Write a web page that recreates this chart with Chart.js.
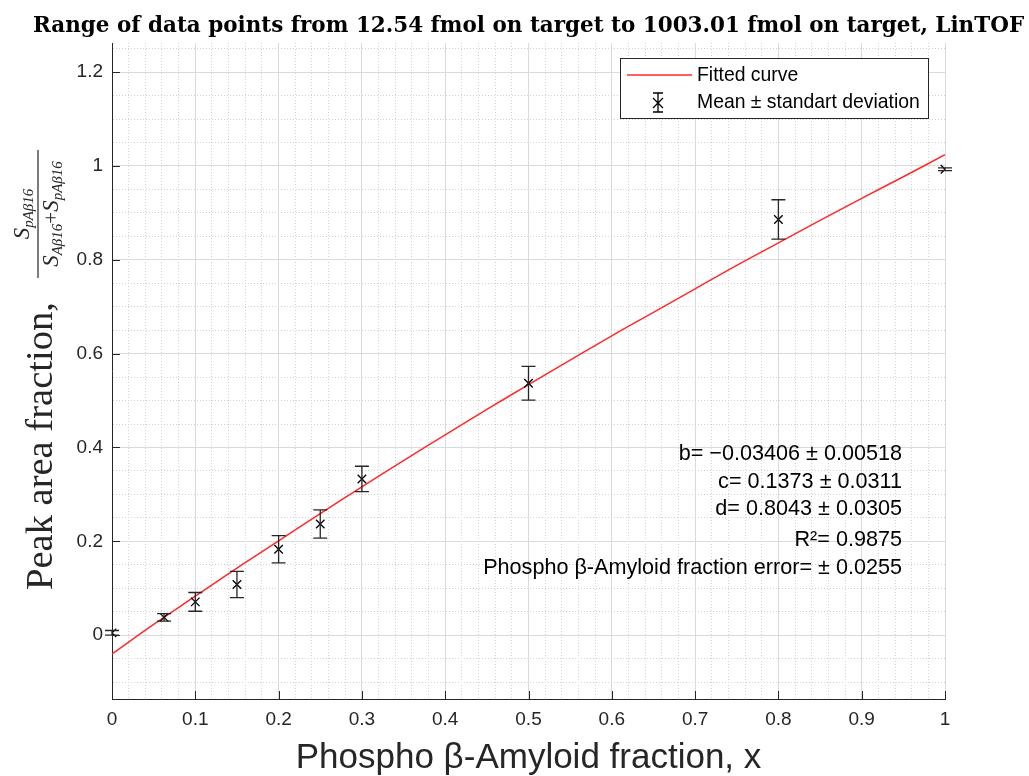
<!DOCTYPE html>
<html>
<head>
<meta charset="utf-8">
<script src="https://cdn.jsdelivr.net/npm/chart.js@4.4.0/dist/chart.umd.min.js"></script>
<style>
  html, body { margin: 0; padding: 0; background: #fff; }
</style>
</head>
<body>
<canvas id="fracChart" width="1029" height="776"></canvas>
<script>
// measured points (mean and standard deviation)
var fracX = [0, 0.0625, 0.1, 0.15, 0.2, 0.25, 0.3, 0.5, 0.8, 1];
var meanY = [0.005, 0.038, 0.071, 0.108, 0.183, 0.237, 0.333, 0.537, 0.886, 0.993];
var sdY   = [0.005, 0.008, 0.020, 0.028, 0.029, 0.030, 0.027, 0.036, 0.042, 0.003];

// fitted curve
var fitX = [0, 0.05, 0.1, 0.15, 0.2, 0.25, 0.3, 0.35, 0.4, 0.45, 0.5, 0.55, 0.6, 0.65, 0.7, 0.75, 0.8, 0.85, 0.9, 0.95, 1];
var fitY = [-0.040, 0.023, 0.083, 0.143, 0.201, 0.259, 0.316, 0.372, 0.427, 0.481, 0.534, 0.586, 0.638, 0.688, 0.738, 0.788, 0.836, 0.884, 0.931, 0.977, 1.024];

var xMajor = [0, 0.1, 0.2, 0.3, 0.4, 0.5, 0.6, 0.7, 0.8, 0.9, 1];
var xLabels = ['0', '0.1', '0.2', '0.3', '0.4', '0.5', '0.6', '0.7', '0.8', '0.9', '1'];
var yMajor = [0, 0.2, 0.4, 0.6, 0.8, 1, 1.2];
var yLabels = ['0', '0.2', '0.4', '0.6', '0.8', '1', '1.2'];

var titleText = 'Range of data points from 12.54 fmol on target to 1003.01 fmol on target, LinTOF';
var legendText = ['Fitted curve', 'Mean \u00b1 standart deviation'];
var fitText = [
  'b= \u22120.03406 \u00b1 0.00518',
  'c= 0.1373 \u00b1 0.0311',
  'd= 0.8043 \u00b1 0.0305',
  'R\u00b2= 0.9875',
  'Phospho \u03b2-Amyloid fraction error= \u00b1 0.0255'
];

var AXIS = '#262626';

// minor grid positions (x every 0.02, y every 0.05)
var xGrid = [];
for (var i = 0; i <= 50; i++) xGrid.push(i / 50);
var yGrid = [];
for (var j = -2; j <= 25; j++) yGrid.push(j / 20);

function isMajor(v, list) {
  for (var k = 0; k < list.length; k++) {
    if (Math.abs(v - list[k]) < 1e-9) return k;
  }
  return -1;
}

function fitSize(ctx, text, family, style, width) {
  ctx.font = style + ' 100px ' + family;
  return 100 * width / ctx.measureText(text).width;
}

function drawParts(ctx, parts, x, y) {
  for (var p = 0; p < parts.length; p++) {
    ctx.font = parts[p].font;
    ctx.fillText(parts[p].t, x, y + (parts[p].dy || 0));
    x += ctx.measureText(parts[p].t).width;
  }
}
function partsWidth(ctx, parts) {
  var w = 0;
  for (var p = 0; p < parts.length; p++) {
    ctx.font = parts[p].font;
    w += ctx.measureText(parts[p].t).width;
  }
  return w;
}

var extras = {
  id: 'extras',
  afterDatasetsDraw: function(chart) {
    var ctx = chart.ctx, xs = chart.scales.x, ys = chart.scales.y;
    var area = chart.chartArea;
    ctx.save();
    // error bars
    ctx.strokeStyle = AXIS;
    ctx.lineWidth = 1.3;
    for (var i = 0; i < fracX.length; i++) {
      var px = xs.getPixelForValue(fracX[i]);
      var top = ys.getPixelForValue(meanY[i] + sdY[i]);
      var bot = ys.getPixelForValue(meanY[i] - sdY[i]);
      ctx.beginPath();
      ctx.moveTo(px, top); ctx.lineTo(px, bot);
      ctx.moveTo(px - 7, top); ctx.lineTo(px + 7, top);
      ctx.moveTo(px - 7, bot); ctx.lineTo(px + 7, bot);
      ctx.stroke();
    }
    // inward ticks
    ctx.lineWidth = 1;
    ctx.beginPath();
    for (var a = 0; a < xMajor.length; a++) {
      var tx = Math.round(xs.getPixelForValue(xMajor[a])) + 0.5;
      ctx.moveTo(tx, area.bottom); ctx.lineTo(tx, area.bottom - 8);
    }
    for (var b = 0; b < yMajor.length; b++) {
      var ty = Math.round(ys.getPixelForValue(yMajor[b])) + 0.5;
      ctx.moveTo(area.left, ty); ctx.lineTo(area.left + 8, ty);
    }
    ctx.stroke();
    ctx.restore();
  },
  afterDraw: function(chart) {
    var ctx = chart.ctx;
    ctx.save();

    // title
    ctx.fillStyle = '#000';
    ctx.textAlign = 'left';
    ctx.textBaseline = 'alphabetic';
    var ts = fitSize(ctx, titleText, '"DejaVu Serif"', 'bold', 992);
    ctx.font = 'bold ' + ts + 'px "DejaVu Serif"';
    ctx.fillText(titleText, 33, 32);

    // y label, rotated
    ctx.save();
    ctx.translate(52, 590);
    ctx.rotate(-Math.PI / 2);
    ctx.fillStyle = AXIS;
    var mainLab = 'Peak area fraction,';
    var ms = fitSize(ctx, mainLab, '"Liberation Serif"', '', 288);
    ctx.font = ms + 'px "Liberation Serif"';
    ctx.fillText(mainLab, 0, 0);
    var fS = 'italic 23px "Liberation Serif"';
    var fSub = 'italic 15px "Liberation Serif"';
    var fUp = '21px "Liberation Serif"';
    var num = [{t: 'S', font: fS}, {t: 'pA\u03b216', font: fSub, dy: 4}];
    var den = [{t: 'S', font: fS}, {t: 'A\u03b216', font: fSub, dy: 4}, {t: '+', font: fUp},
               {t: 'S', font: fS}, {t: 'pA\u03b216', font: fSub, dy: 4}];
    var dw = partsWidth(ctx, den), nw = partsWidth(ctx, num);
    var bx0 = 312, bx1 = 312 + Math.max(dw, 128);
    ctx.strokeStyle = AXIS;
    ctx.lineWidth = 1.2;
    ctx.beginPath();
    ctx.moveTo(bx0, -14); ctx.lineTo(bx1, -14);
    ctx.stroke();
    drawParts(ctx, num, (bx0 + bx1) / 2 - nw / 2, -23);
    drawParts(ctx, den, (bx0 + bx1) / 2 - dw / 2, 6);
    ctx.restore();

    // legend box
    ctx.fillStyle = '#fff';
    ctx.fillRect(620, 58, 308, 60);
    ctx.strokeStyle = AXIS;
    ctx.lineWidth = 1;
    ctx.strokeRect(620.5, 58.5, 308, 60);
    ctx.strokeStyle = '#ff2a2a';
    ctx.lineWidth = 1.5;
    ctx.beginPath(); ctx.moveTo(627, 75); ctx.lineTo(692, 75); ctx.stroke();
    ctx.strokeStyle = '#000';
    ctx.lineWidth = 1.3;
    ctx.beginPath();
    ctx.moveTo(658, 93); ctx.lineTo(658, 112);
    ctx.moveTo(653, 93); ctx.lineTo(663, 93);
    ctx.moveTo(653, 112); ctx.lineTo(663, 112);
    ctx.moveTo(653, 98); ctx.lineTo(663, 108);
    ctx.moveTo(653, 108); ctx.lineTo(663, 98);
    ctx.stroke();
    ctx.fillStyle = '#000';
    ctx.textBaseline = 'middle';
    var ls = fitSize(ctx, legendText[1], '"Liberation Sans"', '', 223);
    ctx.font = ls + 'px "Liberation Sans"';
    ctx.fillText(legendText[0], 697, 76);
    ctx.fillText(legendText[1], 697, 103);

    // fit parameters
    ctx.textAlign = 'right';
    var fs = fitSize(ctx, fitText[4], '"Liberation Sans"', '', 419);
    ctx.font = fs + 'px "Liberation Sans"';
    var rows = [454, 482, 509, 540, 568];
    for (var r = 0; r < fitText.length; r++) {
      ctx.fillText(fitText[r], 902, rows[r]);
    }
    ctx.restore();
  }
};

function gridColor(list) {
  return function(c) {
    if (!c.tick) return '#d9d9d9';
    return isMajor(c.tick.value, list) >= 0 ? '#dadada' : '#d2d2d2';
  };
}
function gridDash(list) {
  return function(c) {
    if (!c.tick) return [];
    return isMajor(c.tick.value, list) >= 0 ? [] : [1, 2];
  };
}

var ctx = document.getElementById('fracChart');
var chart = new Chart(ctx, {
  type: 'scatter',
  data: {
    datasets: [
      {
        label: legendText[0],
        data: fitX.map(function(x, i) { return {x: x, y: fitY[i]}; }),
        showLine: true,
        borderColor: '#ff2a2a',
        borderWidth: 1.5,
        pointRadius: 0,
        tension: 0.4,
        order: 2
      },
      {
        label: legendText[1],
        data: fracX.map(function(x, i) { return {x: x, y: meanY[i]}; }),
        showLine: false,
        pointStyle: 'crossRot',
        pointRadius: 6,
        borderColor: '#000',
        backgroundColor: '#000',
        borderWidth: 1.3,
        order: 1
      }
    ]
  },
  options: {
    responsive: false,
    animation: false,
    layout: { padding: { top: 43, right: 84, left: 0, bottom: 0 } },
    plugins: {
      legend: { display: false },
      title: { display: false },
      tooltip: { enabled: false }
    },
    scales: {
      x: {
        type: 'linear',
        min: 0,
        max: 1,
        afterBuildTicks: function(s) { s.ticks = xGrid.map(function(v) { return {value: v}; }); },
        afterFit: function(s) { s.height = 77; },
        ticks: {
          autoSkip: false,
          maxRotation: 0,
          padding: 9,
          color: AXIS,
          font: { family: '"Liberation Sans"', size: 19 },
          callback: function(v) { var k = isMajor(v, xMajor); return k >= 0 ? xLabels[k] : ''; }
        },
        grid: { color: gridColor(xMajor), lineWidth: 1, drawTicks: false },
        border: { display: true, color: AXIS, width: 1, dash: gridDash(xMajor) },
        title: {
          display: true,
          text: 'Phospho \u03b2-Amyloid fraction, x',
          color: AXIS,
          font: { family: '"Liberation Sans"', size: 35, lineHeight: 1.0 },
          padding: { top: 0, bottom: 0 }
        }
      },
      y: {
        type: 'linear',
        min: -0.136,
        max: 1.262,
        afterBuildTicks: function(s) { s.ticks = yGrid.map(function(v) { return {value: v}; }); },
        afterFit: function(s) { s.width = 112; },
        ticks: {
          autoSkip: false,
          padding: 9,
          color: AXIS,
          font: { family: '"Liberation Sans"', size: 19 },
          callback: function(v) { var k = isMajor(v, yMajor); return k >= 0 ? yLabels[k] : ''; }
        },
        grid: { color: gridColor(yMajor), lineWidth: 1, drawTicks: false },
        border: { display: true, color: AXIS, width: 1, dash: gridDash(yMajor) }
      }
    }
  },
  plugins: [extras]
});
</script>
</body>
</html>
